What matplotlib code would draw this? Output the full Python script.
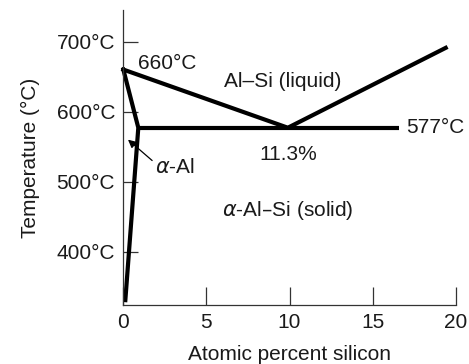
import matplotlib
matplotlib.use("Agg")
import matplotlib.pyplot as plt

plt.rcParams["font.family"] = ["Liberation Sans", "DejaVu Sans"]
plt.rcParams["mathtext.fontset"] = "dejavusans"

# Al-Si phase boundaries (atomic % Si, deg C)
liquidus_x = [0, 9.9, 19.4]
liquidus_t = [660, 577, 691]
solidus_x = [0, 0.9, 0.12]
solidus_t = [660, 577, 331]
eutectic_x = [0.9, 16.6]
eutectic_t = [577, 577]

x_ticks = [0, 5, 10, 15, 20]
y_ticks = [400, 500, 600, 700]
y_tick_labels = ["400°C", "500°C", "600°C", "700°C"]

fig = plt.figure(figsize=(4.69, 3.64), dpi=100)
ax = fig.add_axes([0.263, 0.162, 0.7086, 0.8105])

lw = 3.0
ax.plot(liquidus_x, liquidus_t, color="black", lw=lw, solid_joinstyle="miter",
        clip_on=False)
ax.plot(solidus_x, solidus_t, color="black", lw=lw, solid_joinstyle="miter",
        clip_on=False)
ax.plot(eutectic_x, eutectic_t, color="black", lw=lw, solid_capstyle="butt",
        clip_on=False)

fs = 15
txt = "#1a1a1a"
ax.text(0.87, 669, "660°C", fontsize=fs, ha="left", va="center", color=txt)
ax.text(9.6, 643, "Al–Si (liquid)", fontsize=fs, ha="center", va="center",
        color=txt)
ax.text(17.0, 577, "577°C", fontsize=fs, ha="left", va="center", color=txt,
        clip_on=False)
ax.text(9.9, 539, "11.3%", fontsize=fs, ha="center", va="center", color=txt)
ax.text(9.9, 459, r"$\alpha$-Al–Si (solid)", fontsize=fs, ha="center",
        va="center", color=txt)
ax.annotate(r"$\alpha$-Al", xy=(0.28, 560), xytext=(1.9, 520),
            fontsize=fs, ha="left", va="center", color=txt,
            arrowprops=dict(arrowstyle="-|>", color="black", lw=0.9,
                            mutation_scale=12, shrinkA=0, shrinkB=0,
                            relpos=(0, 0.75)))

ax.set_xlim(0, 20)
ax.set_ylim(324, 745)
ax.set_xticks(x_ticks)
ax.set_yticks(y_ticks)
ax.set_yticklabels(y_tick_labels)
ax.tick_params(axis="x", direction="in", length=12.7, width=0.9, pad=6,
               labelsize=fs, color="#333333", labelcolor=txt)
ax.tick_params(axis="y", direction="in", length=10.8, width=0.9, pad=6,
               labelsize=fs, color="#333333", labelcolor=txt)

for side in ("top", "right"):
    ax.spines[side].set_visible(False)
for side in ("left", "bottom"):
    ax.spines[side].set_color("#333333")
    ax.spines[side].set_linewidth(0.9)

ax.set_xlabel("Atomic percent silicon", fontsize=fs, labelpad=9, color=txt)
ax.set_ylabel("Temperature (°C)", fontsize=fs, labelpad=12, color=txt)

fig.savefig("out.png", dpi=100)
